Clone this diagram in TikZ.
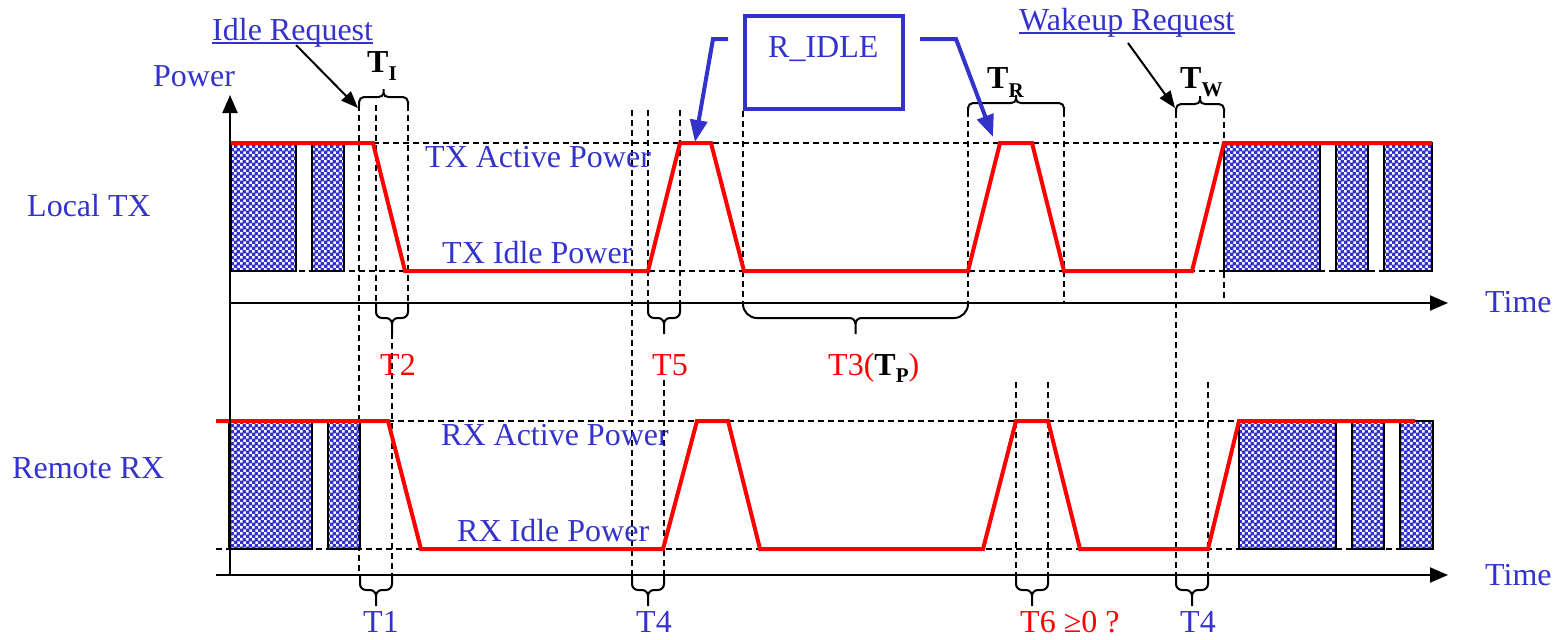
\documentclass[tikz,border=0pt]{standalone}
\usepackage{fontspec}
\setmainfont{Liberation Serif}
\usetikzlibrary{arrows.meta,patterns}
\definecolor{tblue}{RGB}{51,51,204}
\definecolor{tred}{RGB}{255,0,0}
\pgfdeclarepatternformonly{bluechk}{\pgfpointorigin}{\pgfqpoint{6pt}{6pt}}{\pgfqpoint{6pt}{6pt}}{%
  \pgfpathrectangle{\pgfpointorigin}{\pgfqpoint{3.9pt}{3.9pt}}%
  \pgfpathrectangle{\pgfqpoint{3pt}{3pt}}{\pgfqpoint{3.9pt}{3.9pt}}%
  \pgfusepath{fill}}
% bottom brace: xL xR y cornerradius
\newcommand\mybracedn[4]{%
  \pgfmathsetmacro\bxm{(#1+#2)/2}%
  \draw[bracel] (#1,#3) -- (#1,#3+15-#4) .. controls (#1,#3+15-0.45*#4) and (#1+0.45*#4,#3+15) .. (#1+#4,#3+15)
     -- (\bxm-6,#3+15) .. controls (\bxm-2.7,#3+15) and (\bxm,#3+17.7) .. (\bxm,#3+21) -- (\bxm,#3+31);
  \draw[bracel] (#2,#3) -- (#2,#3+15-#4) .. controls (#2,#3+15-0.45*#4) and (#2-0.45*#4,#3+15) .. (#2-#4,#3+15)
     -- (\bxm+6,#3+15) .. controls (\bxm+2.7,#3+15) and (\bxm,#3+17.7) .. (\bxm,#3+21);
}
% top brace: xL xR y
\newcommand\mybraceup[3]{%
  \pgfmathsetmacro\bxm{(#1+#2)/2}%
  \draw[bracel] (#1,#3) -- (#1,#3-3) .. controls (#1,#3-5.7) and (#1+2.3,#3-8) .. (#1+5,#3-8)
     -- (\bxm-5,#3-8) .. controls (\bxm-2.3,#3-8) and (\bxm,#3-9.5) .. (\bxm,#3-12) -- (\bxm,#3-16);
  \draw[bracel] (#2,#3) -- (#2,#3-3) .. controls (#2,#3-5.7) and (#2-2.3,#3-8) .. (#2-5,#3-8)
     -- (\bxm+5,#3-8) .. controls (\bxm+2.3,#3-8) and (\bxm,#3-9.5) .. (\bxm,#3-12);
}
\begin{document}
\begin{tikzpicture}[x=1pt,y=-1pt,
  dsh/.style={black, line width=2pt, dash pattern=on 6pt off 4pt},
  pwr/.style={tred, line width=4pt, line join=miter},
  ax/.style={black, line width=2pt},
  pkt/.style={draw=black, line width=2pt, pattern=bluechk, pattern color=tblue},
  bracel/.style={black, line width=2pt},
  txt/.style={font=\fontsize{32}{32}\selectfont, inner sep=0pt, anchor=base west},
  bluearrow/.style={tblue, line width=4pt, -{Triangle[length=22pt,width=17pt]}},
  blackarrow/.style={black, line width=2pt, -{Triangle[length=17pt,width=13pt]}}
]
\useasboundingbox (0,0) rectangle (1559,640);

% level lines
\draw[dsh] (229,271) -- (1432,271);
\draw[dsh] (373,143) -- (1224,143);
\draw[dsh] (216,549) -- (1433,549);
\draw[dsh] (388,421) -- (1239,421);
% vertical marks
\foreach \x/\a/\b in {359/105/575, 376/105/303, 408/105/303, 392/333/575,
  632/110/575, 648/110/303, 680/110/303, 664/380/575, 743/111/303,
  968/111/303, 1064/111/303, 1176/112/575, 1224/112/303,
  1016/382/575, 1048/382/575, 1208/382/575}
  \draw[dsh] (\x,\a) -- (\x,\b);

% data bursts
\draw[pkt] (231,143) rectangle (296,271);
\draw[pkt] (312,143) rectangle (344,271);
\draw[pkt] (1224,143) rectangle (1320,271);
\draw[pkt] (1336,143) rectangle (1368,271);
\draw[pkt] (1384,143) rectangle (1432,271);
\draw[pkt] (229,421) rectangle (312,549);
\draw[pkt] (328,421) rectangle (360,549);
\draw[pkt] (1239,421) rectangle (1336,549);
\draw[pkt] (1352,421) rectangle (1384,549);
\draw[pkt] (1400,421) rectangle (1433,549);

% power curves
\draw[pwr] (231,143) -- (373,143) -- (405,271) -- (648,271) -- (680,143) -- (711,143) -- (744,271)
  -- (968,271) -- (1000,143) -- (1032,143) -- (1064,271) -- (1192,271) -- (1224,143) -- (1432,143);
\draw[pwr] (216,421) -- (388,421) -- (421,549) -- (663,549) -- (697,421) -- (728,421) -- (760,549)
  -- (983,549) -- (1016,421) -- (1048,421) -- (1080,549) -- (1208,549) -- (1239,421) -- (1415,421);

% axes
\coordinate (ybot) at (230,575);
\coordinate (ytop) at (230,95);
\coordinate (txs) at (229,303);
\coordinate (txe) at (1448,303);
\coordinate (rxs) at (216,575);
\coordinate (rxe) at (1448,575);
\draw[ax] (ybot) -- (230,110);
\draw[ax,-{Triangle[length=18pt,width=15pt]}] (230,120) -- (ytop);
\draw[ax,-{Triangle[length=18pt,width=15pt]}] (txs) -- (txe);
\draw[ax,-{Triangle[length=18pt,width=15pt]}] (rxs) -- (rxe);

% braces
\mybraceup{359}{408}{105}
\mybraceup{968}{1064}{111}
\mybraceup{1176}{1224}{112}
\mybracedn{376}{408}{303}{6}
\mybracedn{648}{680}{303}{6}
\mybracedn{743}{968}{303}{14}
\mybracedn{360}{392}{575}{6}
\mybracedn{632}{664}{575}{6}
\mybracedn{1016}{1048}{575}{6}
\mybracedn{1176}{1208}{575}{6}

% R_IDLE box
\node[draw=tblue, line width=4pt, minimum width=158pt, minimum height=93pt, inner sep=0pt] (ridle) at (824,62) {};
\node[txt, text=tblue] (ridletxt) at (768,57) {R\_IDLE};
\coordinate (la0) at (728,39);
\coordinate (la1) at (713,39);
\coordinate (la2) at (695,142);
\coordinate (ra0) at (920,39);
\coordinate (ra1) at (956,39);
\coordinate (ra2) at (993,137);
\draw[bluearrow] (la0) -- (la1) -- (la2);
\draw[bluearrow] (ra0) -- (ra1) -- (ra2);

% labels
\node[txt, text=tblue] (power) at (153,86) {Power};
\node[txt, text=tblue] (idlereq) at (212,40) {Idle Request};
\draw[tblue, line width=1.5pt] ([yshift=-3pt]idlereq.base west) -- ([yshift=-3pt]idlereq.base east);
\node[txt, text=tblue] (wakereq) at (1019,30) {Wakeup Request};
\draw[tblue, line width=1.5pt] ([yshift=-3pt]wakereq.base west) -- ([yshift=-3pt]wakereq.base east);
\coordinate (ia0) at (296,45);
\coordinate (ia1) at (358,108);
\coordinate (wa0) at (1128,43);
\coordinate (wa1) at (1175,108);
\draw[blackarrow] (ia0) -- (ia1);
\draw[blackarrow] (wa0) -- (wa1);

\node[txt] (ti) at (367,72) {\bfseries T\raisebox{-8pt}{\fontsize{21}{21}\selectfont I}};
\node[txt] (tr) at (987,88) {\bfseries T\raisebox{-9pt}{\fontsize{21}{21}\selectfont R}};
\node[txt] (tw) at (1180,88) {\bfseries T\raisebox{-8pt}{\fontsize{21}{21}\selectfont W}};

\node[txt, text=tblue] (localtx) at (27,216) {Local TX};
\node[txt, text=tblue] (remoterx) at (12,478) {Remote RX};
\node[txt, text=tblue] (time1) at (1485,312) {Time};
\node[txt, text=tblue] (time2) at (1485,585) {Time};
\node[txt, text=tblue] (txact) at (425,167) {TX Active Power};
\node[txt, text=tblue] (txidle) at (442,263) {TX Idle Power};
\node[txt, text=tblue] (rxact) at (441,445) {RX Active Power};
\node[txt, text=tblue] (rxidle) at (457,541) {RX Idle Power};

\node[txt, text=tred] (t2) at (380,375) {T2};
\node[txt, text=tred] (t5) at (652,375) {T5};
\node[txt, text=tred] (t3) at (828,375) {T3(\textcolor{black}{\bfseries T\raisebox{-7pt}{\fontsize{21}{21}\selectfont P}})};
\node[txt, text=tblue] (t1) at (363,632) {T1};
\node[txt, text=tblue] (t4a) at (636,632) {T4};
\node[txt, text=tred] (t6) at (1020,632) {T6 ≥0 ?};
\node[txt, text=tblue] (t4b) at (1180,632) {T4};
\end{tikzpicture}
\end{document}
